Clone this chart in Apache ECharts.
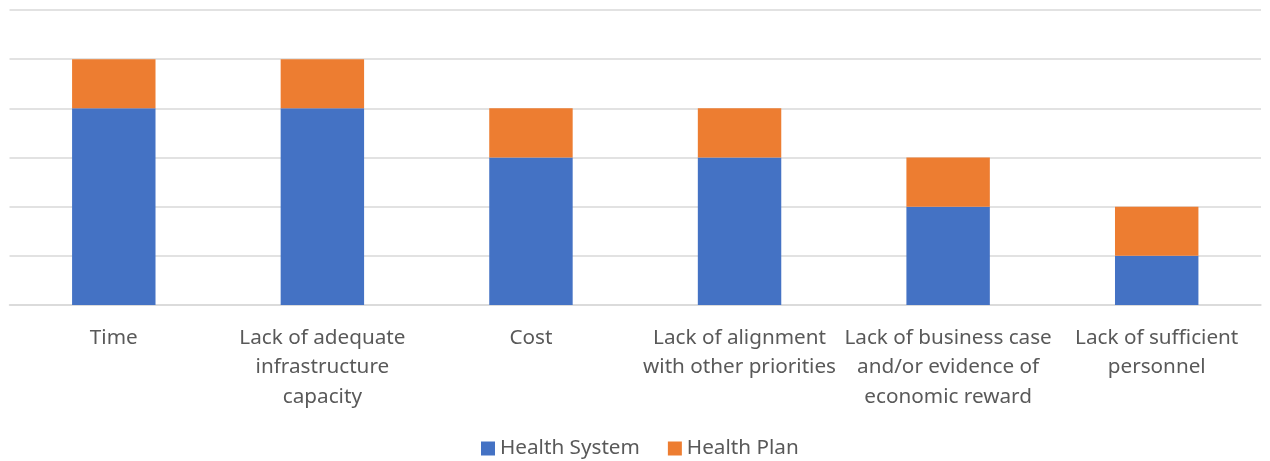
<!DOCTYPE html>
<html>
<head>
<meta charset="utf-8">
<script src="https://cdn.jsdelivr.net/npm/echarts@6/dist/echarts.min.js"></script>
<style>
  html, body { margin: 0; padding: 0; background: #fff; }
  #chart { width: 1270px; height: 461px; }
</style>
</head>
<body>
<div id="chart"></div>
<script>
// Barriers, stacked by respondent type
const categories = [
  'Time',
  'Lack of adequate\ninfrastructure\ncapacity',
  'Cost',
  'Lack of alignment\nwith other priorities',
  'Lack of business case\nand/or evidence of\neconomic reward',
  'Lack of sufficient\npersonnel'
];
const healthSystem = [4, 4, 3, 3, 2, 1];
const healthPlan = [1, 1, 1, 1, 1, 1];
const seriesNames = ['Health System', 'Health Plan'];

const FONT = '"Noto Sans", "Open Sans", sans-serif';
const TEXT = '#595959';

const chart = echarts.init(document.getElementById('chart'), null, { renderer: 'canvas' });
chart.setOption({
  animation: false,
  textStyle: { fontFamily: FONT },
  grid: { left: 9.5, right: 9, top: 10, bottom: 156, containLabel: false },
  legend: {
    bottom: -3,
    left: 476,
    itemWidth: 14,
    itemHeight: 14,
    itemGap: 28,
    icon: 'rect',
    textStyle: { fontSize: 20.7, color: TEXT, fontFamily: FONT },
    data: seriesNames
  },
  xAxis: {
    type: 'category',
    data: categories,
    axisLine: { show: true, lineStyle: { color: '#d9d9d9', width: 1.5 } },
    axisTick: { show: false },
    axisLabel: {
      color: TEXT,
      fontSize: 20.7,
      lineHeight: 29.5,
      margin: 18,
      interval: 0,
      fontFamily: FONT
    }
  },
  yAxis: {
    type: 'value',
    min: 0,
    max: 6,
    interval: 1,
    axisLabel: { show: false },
    axisLine: { show: false },
    axisTick: { show: false },
    splitLine: { lineStyle: { color: '#d9d9d9', width: 1.5 } }
  },
  series: [
    {
      name: seriesNames[0],
      type: 'bar',
      stack: 'total',
      data: healthSystem,
      barWidth: '40%',
      itemStyle: { color: '#4472c4' }
    },
    {
      name: seriesNames[1],
      type: 'bar',
      stack: 'total',
      data: healthPlan,
      barWidth: '40%',
      itemStyle: { color: '#ed7d31' }
    }
  ]
});
</script>
</body>
</html>
